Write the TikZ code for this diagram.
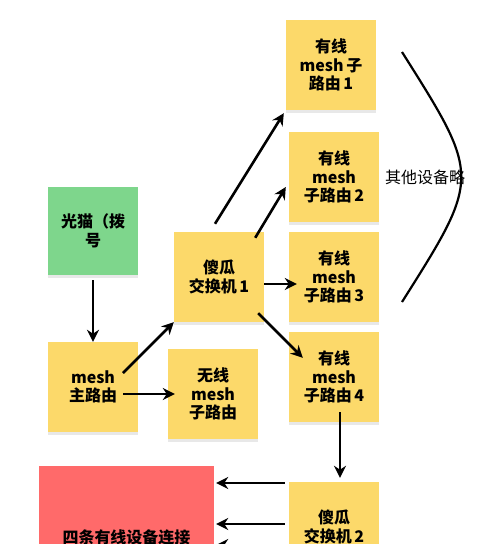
\documentclass[tikz,border=0pt]{standalone}
\usepackage{fontspec}
\setmainfont{Noto Sans CJK SC}
\usetikzlibrary{arrows.meta,positioning,shadows}
\definecolor{notey}{RGB}{252,217,106}
\definecolor{modemg}{RGB}{126,214,140}
\definecolor{wiredr}{RGB}{255,106,106}

\begin{document}
\begin{tikzpicture}[x=1pt, y=-1pt, node distance=100pt, every node/.style={font=\fontsize{16}{18.5}\selectfont}]
    % Styles
    \tikzstyle{note} = [rectangle, minimum width=90pt, minimum height=90pt, align=center, fill=notey, font=\fontsize{16}{18.5}\selectfont\bfseries, drop shadow={shadow xshift=0pt, shadow yshift=-2.5pt, opacity=0.18}]
    \tikzstyle{arrow} = [line width=2.6pt,->,>={Stealth[length=12pt,width=12pt]}]

    \useasboundingbox (0,0) rectangle (500,544);
    \clip (0,0) rectangle (500,544);

    % Nodes
    \node (modem) [note, fill=modemg, minimum height=88pt] at (93,231) {光猫（拨\\号};
    \node (mainr) [note] at (93,387) {mesh\\主路由};
    \node (wless) [note] at (213,394) {无线\\mesh\\子路由};
    \node (swa)   [note] at (219,277) {傻瓜\\交换机\,1};
    \node (rta)   [note] at (331,65) {有线\\mesh\,子\\路由\,1};
    \node (rtb)   [note] at (334,177) {有线\\mesh\\子路由\,2};
    \node (rtc)   [note, below of=rtb] {有线\\mesh\\子路由\,3};
    \node (rtd)   [note, below of=rtc] {有线\\mesh\\子路由\,4};
    \node (swb)   [note, below of=rtd, node distance=150pt] {傻瓜\\交换机\,2};
    \node (wired) [note, fill=wiredr, minimum width=175pt, minimum height=142pt, drop shadow={opacity=0}] at (126.5,537) {四条有线设备连接};

    % Arrows
    \draw [arrow] ([yshift=-5pt]modem.south) -- (mainr.north);
    \draw [arrow] ([xshift=30pt,yshift=14pt]mainr.center) -- (swa.south west);
    \draw [arrow] ([xshift=30pt,yshift=-7pt]mainr.center) -- ([xshift=7pt]wless.west);
    \draw [arrow] ([xshift=-4pt,yshift=8pt]swa.north) -- ([xshift=-2pt,yshift=-3pt]rta.south west);
    \draw [arrow] ([xshift=-9pt,yshift=-6pt]swa.north east) -- ([xshift=-3pt,yshift=-10pt]rtb.west);
    \draw [arrow] ([yshift=-7pt]swa.east) -- ([xshift=8pt,yshift=-7pt]rtc.west);
    \draw [arrow] ([xshift=-6pt,yshift=9pt]swa.south east) -- ([xshift=14pt,yshift=-26pt]rtd.north west);
    \draw [arrow] ([xshift=6pt,yshift=10pt]rtd.south) -- ([xshift=6pt,yshift=4pt]swb.north);
    \draw [arrow] ([xshift=-4pt,yshift=44pt]swb.west) -- ([xshift=2pt,yshift=54pt]wired.east);
    \draw [arrow] ([xshift=-4pt,yshift=3pt]swb.west) -- ([xshift=2pt,yshift=13pt]wired.east);
    \draw [arrow] ([xshift=-4pt,yshift=-18pt]swb.west) -- ([xshift=2pt,yshift=-8pt]wired.east);

    % Other devices
    \draw [line width=2.2pt] (402,52) .. controls (481,177) .. (402,302);
    \node (others) at (425,177) {其他设备略};
\end{tikzpicture}
\end{document}
